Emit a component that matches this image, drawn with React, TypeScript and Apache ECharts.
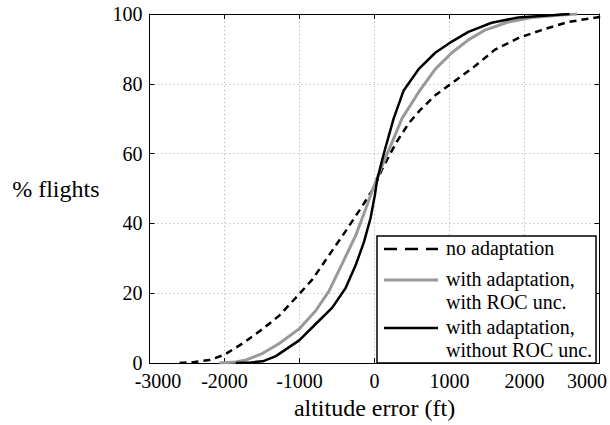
import React, { useEffect, useRef } from "react";
import * as echarts from "echarts";

const FONT = "Times New Roman";

const xTicks = [-3000, -2000, -1000, 0, 1000, 2000, 3000];
const yTicks = [0, 20, 40, 60, 80, 100];

const seriesNames = [
  "no adaptation",
  "with adaptation, with ROC unc.",
  "with adaptation, without ROC unc.",
];

const noAdaptation: [number, number][] = [
  [-2600, 0], [-2400, 0.3], [-2200, 0.9], [-2010, 2.3], [-1760, 5.6], [-1490, 9.8],
  [-1270, 13.6], [-1050, 18.7], [-830, 23.9], [-610, 30.8], [-385, 37.8], [-165, 44.9],
  [0, 50.5], [100, 55.5], [190, 59.2], [300, 63.5], [450, 68.5], [600, 72.3],
  [810, 76.7], [1076, 80.9], [1341, 85.1], [1607, 89.8], [1916, 93.1], [2226, 95.4],
  [2580, 97.7], [2980, 99.1], [3200, 99.5],
];

const withRocUnc: [number, number][] = [
  [-2070, 0], [-1850, 0.3], [-1710, 0.9], [-1490, 2.8], [-1270, 5.6], [-1005, 9.8],
  [-784, 15], [-607, 20.6], [-430, 28.5], [-252, 36.5], [-120, 44], [-20, 50],
  [57, 54.2], [150, 59], [250, 64], [367, 70.1], [588, 77.6], [810, 84.2],
  [1031, 88.9], [1252, 92.6], [1474, 95.4], [1784, 97.7], [2138, 99.1], [2490, 99.7],
  [2700, 100],
];

const withoutRocUnc: [number, number][] = [
  [-1850, 0], [-1650, 0.2], [-1490, 0.5], [-1315, 2], [-1005, 6.5], [-784, 11.2],
  [-563, 15.9], [-385, 21.5], [-252, 28], [-142, 34.6], [-53, 41.5], [4, 48],
  [35, 52.4], [100, 58], [146, 61.7], [256, 70.1], [389, 78.1], [588, 84.2],
  [810, 88.9], [1031, 92.1], [1252, 94.9], [1562, 97.5], [1916, 99], [2404, 99.7],
  [2600, 100],
];

const legendLines = [
  ["no adaptation"],
  ["with adaptation,", "with ROC unc."],
  ["with adaptation,", "without ROC unc."],
];

export default function App() {
  const ref = useRef<HTMLDivElement>(null);

  useEffect(() => {
    document.body.style.margin = "0";
    if (!ref.current) return;
    const chart = echarts.init(ref.current, null, { renderer: "svg" });

    const styles = [
      { color: "#000", width: 2.5, type: [7, 5] as any },
      { color: "#999", width: 3, type: "solid" as any },
      { color: "#000", width: 2.5, type: "solid" as any },
    ];
    const datas = [noAdaptation, withRocUnc, withoutRocUnc];

    const lx = 377, ly = 236, lw = 219, lh = 127;
    const rowY = [[249], [280, 303], [328, 351]];
    const legendGraphics: any[] = [
      {
        type: "rect",
        shape: { x: lx, y: ly, width: lw, height: lh },
        style: { fill: "#fff", stroke: "#000", lineWidth: 1.5 },
        z: 100,
      },
    ];
    legendLines.forEach((lines, i) => {
      legendGraphics.push({
        type: "line",
        shape: { x1: 384, y1: rowY[i][0], x2: 438, y2: rowY[i][0] },
        style: {
          stroke: styles[i].color,
          lineWidth: i === 1 ? 3 : 2.5,
          lineDash: i === 0 ? [13, 8] : null,
        },
        z: 101,
      });
      lines.forEach((t, j) => {
        legendGraphics.push({
          type: "text",
          x: 446,
          y: rowY[i][j] - 11,
          style: {
            text: t,
            fontFamily: FONT,
            fontSize: 20,
            fill: "#000",
          },
          z: 101,
        });
      });
    });

    const labelStyle = { fontFamily: FONT, fontSize: 20, color: "#000" };

    chart.setOption({
      animation: false,
      grid: { left: 149.5, right: 9, top: 14, bottom: 55, containLabel: false },
      xAxis: [
        {
          type: "value",
          min: xTicks[0],
          max: xTicks[xTicks.length - 1],
          interval: 1000,
          name: "altitude error (ft)",
          nameLocation: "middle",
          nameGap: 28,
          nameTextStyle: { fontFamily: FONT, fontSize: 24, color: "#000" },
          axisLine: { show: true, onZero: false, lineStyle: { color: "#000", width: 1 } },
          axisTick: { show: true, inside: true, length: 5, lineStyle: { color: "#000" } },
          splitLine: { show: true, lineStyle: { color: "#aaa", type: [1, 3], width: 1 } },
          axisLabel: {
            ...labelStyle,
            margin: 8,
            formatter: (v: number) =>
              v === xTicks[0] ? `{l|${v}}` : v === xTicks[xTicks.length - 1] ? `{r|${v}}` : `${v}`,
            rich: {
              l: { ...labelStyle, padding: [0, 0, 0, 17] },
              r: { ...labelStyle, padding: [0, 25, 0, 0] },
            },
          },
        },
        {
          type: "value",
          position: "top",
          min: xTicks[0],
          max: xTicks[xTicks.length - 1],
          interval: 1000,
          axisLine: { show: true, onZero: false, lineStyle: { color: "#000", width: 1 } },
          axisTick: { show: true, inside: true, length: 5, lineStyle: { color: "#000" } },
          axisLabel: { show: false },
          splitLine: { show: false },
        },
      ],
      yAxis: [
        {
          type: "value",
          min: yTicks[0],
          max: yTicks[yTicks.length - 1],
          interval: 20,
          name: "% flights",
          nameLocation: "middle",
          nameRotate: 0,
          nameGap: 50,
          nameTextStyle: { fontFamily: FONT, fontSize: 24, color: "#000" },
          axisLine: { show: true, onZero: false, lineStyle: { color: "#000", width: 1 } },
          axisTick: { show: true, inside: true, length: 5, lineStyle: { color: "#000" } },
          splitLine: { show: true, lineStyle: { color: "#aaa", type: [1, 3], width: 1 } },
          axisLabel: { ...labelStyle, margin: 7 },
        },
        {
          type: "value",
          position: "right",
          min: yTicks[0],
          max: yTicks[yTicks.length - 1],
          interval: 20,
          axisLine: { show: true, onZero: false, lineStyle: { color: "#000", width: 1 } },
          axisTick: { show: true, inside: true, length: 5, lineStyle: { color: "#000" } },
          axisLabel: { show: false },
          splitLine: { show: false },
        },
      ],
      series: datas.map((d, i) => ({
        name: seriesNames[i],
        type: "line",
        data: d,
        showSymbol: false,
        symbol: "none",
        clip: true,
        lineStyle: { color: styles[i].color, width: styles[i].width, type: styles[i].type },
        z: 2 + i,
      })),
      graphic: legendGraphics,
    } as any);

    return () => chart.dispose();
  }, []);

  return <div ref={ref} style={{ width: 610, height: 425 }} />;
}
